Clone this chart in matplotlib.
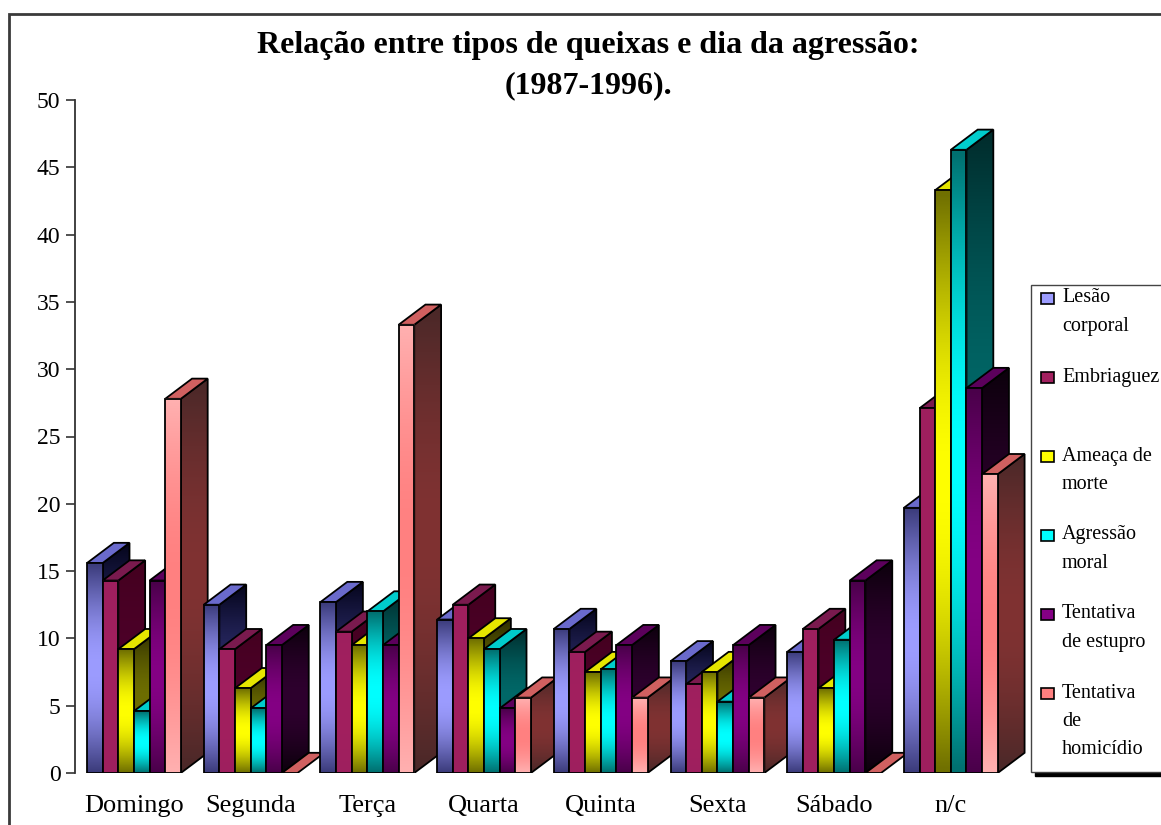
import numpy as np
import matplotlib.pyplot as plt
from matplotlib.patches import Polygon, Rectangle
from matplotlib.colors import to_rgb

plt.rcParams['font.family'] = ['Liberation Serif', 'DejaVu Serif']

dias = ["Domingo", "Segunda", "Terça", "Quarta", "Quinta", "Sexta", "Sábado", "n/c"]
tipos = ["Lesão\ncorporal", "Embriaguez", "Ameaça de\nmorte", "Agressão\nmoral",
         "Tentativa\nde estupro", "Tentativa\nde\nhomicídio"]

lesao = [15.6, 12.5, 12.7, 11.4, 10.7, 8.3, 9.0, 19.7]
embriaguez = [14.3, 9.2, 10.5, 12.5, 9.0, 6.6, 10.7, 27.1]
ameaca = [9.2, 6.3, 9.5, 10.0, 7.5, 7.5, 6.3, 43.3]
agressao = [4.6, 4.8, 12.0, 9.2, 7.7, 5.3, 9.9, 46.3]
estupro = [14.3, 9.5, 9.5, 4.8, 9.5, 9.5, 14.3, 28.6]
homicidio = [27.8, 0, 33.3, 5.6, 5.6, 5.6, 0, 22.2]

valores = [lesao, embriaguez, ameaca, agressao, estupro, homicidio]

# frente (borda, centro), lado (borda, centro), topo
cores = [
    ('#3c3c7c', '#9c9cff', '#05051c', '#2a2a66', '#6a6acc'),
    ('#9e1f5e', '#a2205f', '#44001f', '#4c0028', '#7a1a4e'),
    ('#707000', '#ffff00', '#2c2c00', '#6e6e00', '#e6e600'),
    ('#007070', '#00ffff', '#002c2c', '#006868', '#00cccc'),
    ('#4a004a', '#840084', '#0c000c', '#2e002e', '#5c005c'),
    ('#ffb0b0', '#ff8080', '#4a2828', '#803232', '#d06060'),
]


def gradiente(c_borda, c_centro, n=64):
    t = np.linspace(0, 1, n)
    f = np.sin(np.pi * t)[:, None]
    a = np.array(to_rgb(c_borda))
    b = np.array(to_rgb(c_centro))
    return (a + (b - a) * f)[:, None, :]


W, H = 1161, 825
fig = plt.figure(figsize=(W / 100, H / 100), dpi=100)
ax = fig.add_axes([75 / W, 52 / H, 955 / W, 673 / H])

w = 0.134   # largura de cada barra
dx = 0.23   # profundidade (x)
dy = 1.5    # profundidade (y)

z = 2
for i in range(len(dias)):
    for j, vals in enumerate(valores):
        v = vals[i]
        x0 = i - 3 * w + j * w
        x1 = x0 + w
        fb, fc, lb, lc, tc = cores[j]
        if v > 0:
            lado = Polygon([(x1, 0), (x1 + dx, dy), (x1 + dx, v + dy), (x1, v)],
                           closed=True, facecolor='none', edgecolor='black',
                           lw=1.3, zorder=z + 0.2)
            ax.add_patch(lado)
            im = ax.imshow(gradiente(lb, lc), extent=(x1, x1 + dx, 0, v + dy),
                           origin='lower', aspect='auto', interpolation='bilinear',
                           zorder=z + 0.1)
            im.set_clip_path(lado)
        ax.add_patch(Polygon([(x0, v), (x1, v), (x1 + dx, v + dy), (x0 + dx, v + dy)],
                             closed=True, facecolor=tc, edgecolor='black',
                             lw=1.3, zorder=z + 0.3))
        if v > 0:
            ax.imshow(gradiente(fb, fc), extent=(x0, x1, 0, v), origin='lower',
                      aspect='auto', interpolation='bilinear', zorder=z + 0.4)
            ax.add_patch(Rectangle((x0, 0), w, v, facecolor='none', edgecolor='black',
                                   lw=1.3, zorder=z + 0.5))
        z += 1

ax.set_xlim(-0.505, -0.505 + 955 / 116.7)
ax.set_ylim(0, 50)
ax.set_yticks(np.arange(0, 51, 5))
ax.set_xticks(range(len(dias)), dias)
for s in ['top', 'right', 'bottom']:
    ax.spines[s].set_visible(False)
ax.spines['left'].set_color('#333333')
ax.spines['left'].set_linewidth(1.3)
ax.tick_params(axis='x', length=0, pad=16, labelsize=19)
ax.tick_params(axis='y', length=6.5, width=1.2, color='#333333', pad=4, labelsize=17)

# titulo
fig.text(588 / W, 1 - 46 / H, "Relação entre tipos de queixas e dia da agressão:",
         ha='center', va='center', fontsize=23, fontweight='bold')
fig.text(588 / W, 1 - 86 / H, "(1987-1996).", ha='center', va='center',
         fontsize=23, fontweight='bold')

# moldura do grafico
fig.patches.append(Rectangle((9 / W, -0.1), 1.2, 1 - 14 / H + 0.1, transform=fig.transFigure,
                             facecolor='none', edgecolor='#3a3a3a', lw=2))

# legenda
fig.patches.append(Rectangle((1035 / W, 1 - 776 / H), 0.2, (772 - 285) / H,
                             transform=fig.transFigure, facecolor='black',
                             edgecolor='black', lw=1, zorder=5))
fig.patches.append(Rectangle((1031 / W, 1 - 772 / H), 0.2, (772 - 285) / H,
                             transform=fig.transFigure, facecolor='white',
                             edgecolor='#444444', lw=1, zorder=6))
for k, nome in enumerate(tipos):
    yk = 298 + 79 * k
    fig.patches.append(Rectangle((1041 / W, 1 - (yk + 6) / H), 13 / W, 11 / H,
                                 transform=fig.transFigure, facecolor=cores[k][1],
                                 edgecolor='black', lw=1.2, zorder=7))
    for l, linha in enumerate(nome.split("\n")):
        fig.text(1062 / W, 1 - (yk + 28.5 * l) / H, linha, ha='left', va='center',
                 fontsize=14.5, zorder=8)

fig.savefig("out.png", dpi=100)
